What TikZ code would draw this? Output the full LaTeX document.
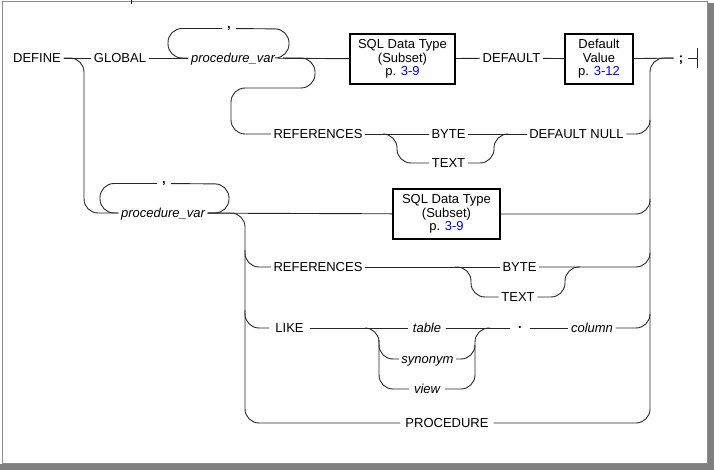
\documentclass[tikz,border=0pt]{standalone}
\usepackage{fontspec}
\setmainfont{Liberation Sans}

\newcommand\railfont{\fontsize{13}{13.5}\selectfont}

\tikzset{
  kw/.style={font=\railfont, text height=9.3pt, text depth=0pt, inner sep=2.5pt},
  var/.style={kw, font=\railfont\itshape},
  punct/.style={font=\railfont\bfseries, text height=1.5pt, text depth=1.5pt, inner sep=5pt},
  refbox/.style={draw=black, line width=2pt, align=center, font=\railfont,
    minimum height=50pt, inner sep=0pt},
  track/.style={draw=black!85, line width=0.9pt, rounded corners=14pt},
  page/.style={black!45, line width=1pt}
}

\begin{document}
\begin{tikzpicture}[x=1pt, y=-1pt]

\useasboundingbox (0,0) rectangle (714,470);
\fill [white] (0,0) rectangle (714,470);
\fill [black!50] (708,3) rectangle (714,470);
\fill [black!50] (0,464) rectangle (714,470);
\draw [page] (2,2) rectangle (707,463);
\draw [black, line width=0.8pt] (131.5,0) -- (131.5,4);

\node [kw] (Define) at (37,58) {DEFINE};
\node [kw] (Global) at (120,58) {GLOBAL};
\node [var] (ProcVarA) at (233,58) {procedure\_var};
\node [punct] (CommaA) at (229,28.5) {,};
\node [refbox, minimum width=105pt] (SqlA) at (402.5,59) {SQL Data Type\\(Subset)\\p. \textcolor{blue}{3-9}};
\node [kw] (Default) at (511.5,58) {DEFAULT};
\node [refbox, minimum width=68pt] (DefValue) at (599,59) {Default\\Value\\p. \textcolor{blue}{3-12}};
\node [kw, font=\railfont\bfseries, inner sep=5pt] (Semi) at (681,58) {;};
\coordinate (Stop) at (697,58);

\node [kw] (RefsA) at (318,134) {REFERENCES};
\node [kw] (ByteA) at (448.5,134) {BYTE};
\node [kw] (TextA) at (448.5,163) {TEXT};
\node [kw] (DefNull) at (576.5,134) {DEFAULT NULL};

\node [var] (ProcVarB) at (163,213) {procedure\_var};
\node [punct] (CommaB) at (164,183.5) {,};
\node [refbox, minimum width=107pt] (SqlB) at (446.5,214) {SQL Data Type\\(Subset)\\p. \textcolor{blue}{3-9}};
\node [kw] (RefsB) at (318,267) {REFERENCES};
\node [kw] (ByteB) at (519.5,267) {BYTE};
\node [kw] (TextB) at (518,297) {TEXT};
\node [kw, inner sep=6pt] (Like) at (289.5,328) {LIKE};
\node [var, inner sep=5pt] (Table) at (427,328) {table};
\node [var] (Synonym) at (427.5,359) {synonym};
\node [var, inner sep=5pt] (View) at (427,389) {view};
\node [punct, inner sep=8pt] (Dot) at (520,328) {.};
\node [var] (Column) at (592,328) {column};
\node [kw, inner sep=5pt] (Procedure) at (447,423) {PROCEDURE};

\coordinate (SplitA) at (283,58);
\coordinate (SplitB) at (383,134);
\coordinate (JoinB) at (508,134);
\coordinate (DropRefs) at (245,250);
\coordinate (SplitC) at (455,267);
\coordinate (JoinC) at (580,267);
\coordinate (DropLike) at (245,310);
\coordinate (SplitD) at (365,328);
\coordinate (DropSyn) at (379,340);
\coordinate (JoinD) at (490,328);

% global variables
\draw [track] (Define) -- (Global);
\draw [track] (Global) -- (ProcVarA);
\draw [track] (CommaA) -| (168,58) -- (ProcVarA.west);
\draw [track] (ProcVarA.east) -| (289,29) -- (CommaA);
\draw [track] (ProcVarA) -- (SqlA);
\draw [track] (SqlA) -- (Default);
\draw [track] (Default) -- (DefValue);
\draw [track] (DefValue) -- (Semi);
\draw [track] (Semi) -- (Stop);
\draw [track] (Stop) ++(0,-10) -- ++(0,20);

\draw [track] (SplitA) -- (315,58) -- (315,88) -- (231,88) -- (231,134) -- (RefsA);
\draw [track] (RefsA) -- (ByteA);
\draw [track] (SplitB) -| (397,163) -- (TextA);
\draw [track] (TextA) -| (494,134) -- (JoinB);
\draw [track] (ByteA) -- (DefNull);
\draw [track] (DefNull) -| (650,120);

% collector on the right
\draw [track] (Procedure) -| (650,58) -- (Semi);

% local variables
\draw [track] (Define) -| (84,213) -- (ProcVarB);
\draw [track] (CommaB) -| (100,213) -- (ProcVarB.west);
\draw [track] (ProcVarB.east) -| (229,184) -- (CommaB);
\draw [track] (ProcVarB) -- (SqlB);
\draw [track] (SqlB) -| (650,199);
\draw [track] (ProcVarB.east) -| (245,423) -- (Procedure);

\draw [track] (DropRefs) |- (RefsB);
\draw [track] (RefsB) -- (ByteB);
\draw [track] (SplitC) -| (471,297) -- (TextB);
\draw [track] (TextB) -| (565,267) -- (JoinC);
\draw [track] (ByteB) -| (650,253);

\draw [track] (DropLike) |- (Like);
\draw [track] (Like) -- (Table);
\draw [track] (SplitD) -| (379,389) -- (View);
\draw [track] (DropSyn) |- (Synonym);
\draw [track] (View) -| (475,328) -- (JoinD);
\draw [track] (Synonym) -| (475,345);
\draw [track] (Table) -- (Dot);
\draw [track] (Dot) -- (Column);
\draw [track] (Column) -| (650,314);

\end{tikzpicture}
\end{document}
